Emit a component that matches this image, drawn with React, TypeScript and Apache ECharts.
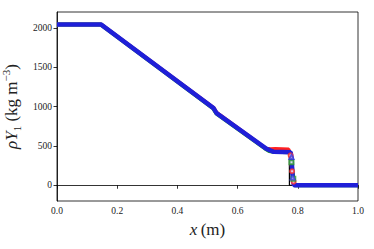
import React, { useEffect, useRef } from "react";
import * as echarts from "echarts";

const xTicks = [0, 0.2, 0.4, 0.6, 0.8, 1.0];
const yTicks = [0, 500, 1000, 1500, 2000];

const blackX = [0, 0.147, 0.52, 0.527, 0.695, 0.705, 0.72, 0.772, 0.7721, 1];
const blackY = [2040, 2040, 980, 930, 468, 452, 444, 444, 0, 0];

const redX = [0, 0.148, 0.521, 0.53, 0.695, 0.71, 0.725, 0.77, 0.775, 0.781, 0.786, 0.79, 1];
const redY = [2040, 2040, 982, 925, 466, 460, 462, 456, 380, 178, 40, 0, 0];

const greenX = [0, 0.146, 0.519, 0.53, 0.69, 0.705, 0.72, 0.775, 0.779, 0.785, 0.79, 1];
const greenY = [2040, 2040, 975, 908, 470, 435, 425, 420, 292, 81, 0, 0];

const blueX = [0, 0.147, 0.52, 0.53, 0.695, 0.71, 0.72, 0.776, 0.779, 0.783, 0.787, 1];
const blueY = [2040, 2040, 980, 915, 465, 440, 424, 420, 360, 100, 0, 0];

const redMarkX = [0.776, 0.781, 0.786];
const redMarkY = [380, 178, 45];
const greenMarkX = [0.779, 0.785];
const greenMarkY = [292, 81];
const blueMarkX = [0.779, 0.783];
const blueMarkY = [360, 100];

const zip = (xs: number[], ys: number[]) => xs.map((x, i) => [x, ys[i]]);

const FONT = "Liberation Serif";

export default function App() {
  const ref = useRef<HTMLDivElement>(null);
  useEffect(() => {
    if (!ref.current) return;
    const chart = echarts.init(ref.current, undefined, { renderer: "svg" });
    chart.setOption({
      animation: false,
      backgroundColor: "#ffffff",
      grid: {
        left: 57,
        right: 16,
        top: 12,
        bottom: 48,
        containLabel: false,
        outerBoundsMode: "none",
        show: true,
        borderColor: "#000",
        borderWidth: 0.8,
        backgroundColor: "transparent",
      },
      xAxis: {
        type: "value",
        min: 0,
        max: 1,
        interval: 0.2,
        name: "{i|x} {n|(m)}",
        nameLocation: "middle",
        nameGap: 14,
        nameTextStyle: {
          rich: {
            i: { fontFamily: FONT, fontStyle: "italic", fontSize: 17, color: "#222" },
            n: { fontFamily: FONT, fontSize: 17, color: "#222" },
          },
        },
        axisLine: { show: true, lineStyle: { color: "#000", width: 0.8 } },
        axisTick: { show: true, length: 3.5, customValues: xTicks, lineStyle: { color: "#000", width: 0.8 } },
        axisLabel: {
          fontFamily: FONT,
          fontSize: 9.5,
          color: "#222",
          margin: 5,
          customValues: xTicks,
          formatter: (v: number) => v.toFixed(1),
        },
        splitLine: { show: false },
      },
      yAxis: {
        type: "value",
        min: -200,
        max: 2200,
        name: "{i|ρY}{sub|1}{n| (kg m}{sup|−3}{n|)}",
        nameLocation: "middle",
        nameGap: 28,
        nameTextStyle: {
          rich: {
            i: { fontFamily: FONT, fontStyle: "italic", fontSize: 17, color: "#222", lineHeight: 22, verticalAlign: "middle" },
            n: { fontFamily: FONT, fontSize: 17, color: "#222", lineHeight: 22, verticalAlign: "middle" },
            sub: { fontFamily: FONT, fontSize: 11, color: "#222", lineHeight: 22, verticalAlign: "bottom" },
            sup: { fontFamily: FONT, fontSize: 11, color: "#222", lineHeight: 22, verticalAlign: "top" },
          },
        },
        axisLine: { show: true, lineStyle: { color: "#000", width: 0.8 } },
        axisTick: {
          show: true,
          length: 3.5,
          customValues: yTicks,
          lineStyle: { color: "#000", width: 0.8 },
        },
        axisLabel: {
          fontFamily: FONT,
          fontSize: 9.5,
          color: "#222",
          margin: 5,
          customValues: yTicks,
          formatter: (v: number) => String(v),
        },
        splitLine: { show: false },
      },
      series: [
        {
          type: "line",
          data: zip(blackX, blackY),
          showSymbol: false,
          lineStyle: { color: "#000", width: 1.2 },
          z: 1,
        },
        {
          type: "line",
          data: zip(redX, redY),
          showSymbol: false,
          lineStyle: { color: "#ff2020", width: 3.5 },
          z: 2,
        },
        {
          type: "line",
          data: zip(greenX, greenY),
          showSymbol: false,
          lineStyle: { color: "#1a9a1a", width: 4 },
          z: 3,
        },
        {
          type: "line",
          data: zip(blueX, blueY),
          showSymbol: false,
          lineStyle: { color: "#1f1fd8", width: 4.5 },
          z: 4,
        },
        {
          type: "scatter",
          data: zip(redMarkX, redMarkY),
          symbol: "emptyCircle",
          symbolSize: 4,
          itemStyle: { color: "#ff3030", borderWidth: 0.7 },
          z: 5,
        },
        {
          type: "scatter",
          data: zip(greenMarkX, greenMarkY),
          symbol: "emptyRect",
          symbolSize: 4,
          itemStyle: { color: "#2a9a2a", borderWidth: 0.7 },
          z: 5,
        },
        {
          type: "scatter",
          data: zip(blueMarkX, blueMarkY),
          symbol: "emptyTriangle",
          symbolSize: 4,
          itemStyle: { color: "#3a3ae0", borderWidth: 0.7 },
          z: 6,
        },
      ],
    });
    return () => chart.dispose();
  }, []);
  return <div ref={ref} style={{ width: 374, height: 249, position: "absolute", left: 0, top: 0 }} />;
}
